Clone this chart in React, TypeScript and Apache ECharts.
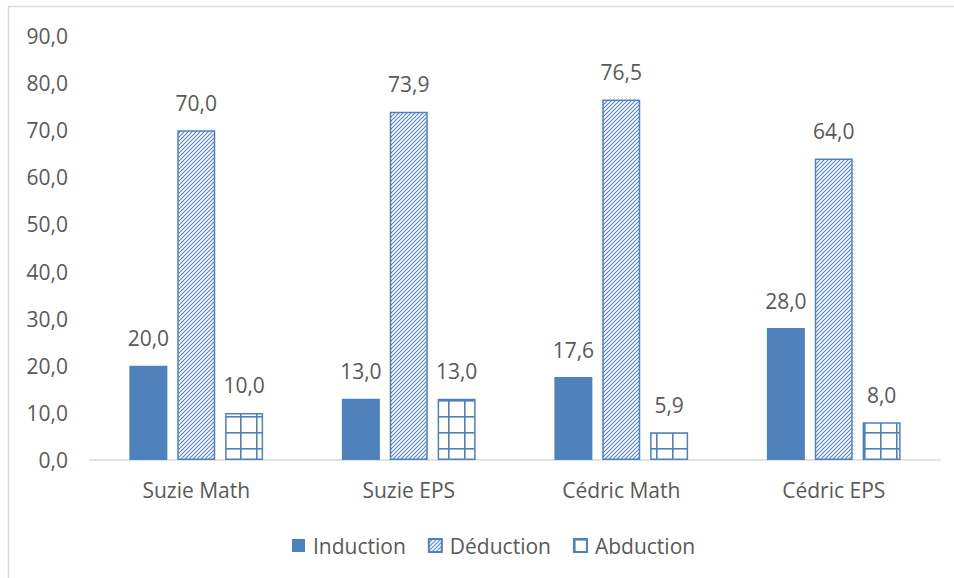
import React, { useEffect, useRef } from "react";
import * as echarts from "echarts";

const categories = ["Suzie Math", "Suzie EPS", "Cédric Math", "Cédric EPS"];
const induction = [20.0, 13.0, 17.6, 28.0];
const deduction = [70.0, 73.9, 76.5, 64.0];
const abduction = [10.0, 13.0, 5.9, 8.0];
const seriesNames = ["Induction", "Déduction", "Abduction"];

const BLUE = "#4F81BD";
const TEXT = "#595959";
const FONT = "'Open Sans', sans-serif";
const FS = 21;

function hatchPattern() {
  const s = 8;
  const c = document.createElement("canvas");
  c.width = s;
  c.height = s;
  const ctx = c.getContext("2d")!;
  ctx.fillStyle = "#ffffff";
  ctx.fillRect(0, 0, s, s);
  ctx.strokeStyle = BLUE;
  ctx.lineWidth = 1.1;
  for (let k = -2; k <= 2; k++) {
    const o = k * 4;
    ctx.beginPath();
    ctx.moveTo(o - 1, s + 1);
    ctx.lineTo(o + s + 1, -1);
    ctx.stroke();
  }
  return { image: c.toDataURL(), repeat: "repeat", imageWidth: s, imageHeight: s };
}

function gridPattern() {
  const s = 16;
  const c = document.createElement("canvas");
  c.width = s;
  c.height = s;
  const ctx = c.getContext("2d")!;
  ctx.fillStyle = "#ffffff";
  ctx.fillRect(0, 0, s, s);
  ctx.fillStyle = BLUE;
  ctx.fillRect(0, 0, s, 1.6);
  ctx.fillRect(0, 0, 1.6, s);
  return { image: c.toDataURL(), repeat: "repeat", imageWidth: s, imageHeight: s };
}

const fmt = (v: number) => v.toFixed(1).replace(".", ",");

export default function App() {
  const ref = useRef<HTMLDivElement>(null);
  useEffect(() => {
    if (!ref.current) return;
    const chart = echarts.init(ref.current, null, { renderer: "svg" });
    const label = {
      show: true,
      position: "top",
      distance: 17,
      color: TEXT,
      fontSize: FS,
      fontFamily: FONT,
      formatter: (p: any) => fmt(p.value),
    };
    chart.setOption({
      animation: false,
      backgroundColor: "#ffffff",
      graphic: [
        {
          type: "rect",
          shape: { x: 8.5, y: 6.5, width: 1000, height: 700 },
          style: { fill: "none", stroke: "#d9d9d9", lineWidth: 1.5 },
          silent: true,
        },
      ],
      grid: { left: 90, right: 14, top: 36, bottom: 118, containLabel: false },
      legend: {
        data: seriesNames,
        icon: "rect",
        left: 287,
        top: 530,
        itemWidth: 13,
        itemHeight: 13,
        itemGap: 22,
        textStyle: { color: TEXT, fontSize: FS, fontFamily: FONT, padding: [0, 0, 0, 3] },
      },
      xAxis: {
        type: "category",
        data: categories,
        axisLine: { lineStyle: { color: "#d9d9d9", width: 1.5 } },
        axisTick: { show: false },
        axisLabel: { color: TEXT, fontSize: FS, fontFamily: FONT, margin: 19 },
      },
      yAxis: {
        type: "value",
        min: 0,
        max: 90,
        interval: 10,
        axisLine: { show: false },
        axisTick: { show: false },
        splitLine: { show: false },
        axisLabel: { color: TEXT, fontSize: FS, fontFamily: FONT, margin: 22, formatter: fmt },
      },
      series: [
        {
          name: seriesNames[0],
          type: "bar",
          data: induction,
          barWidth: 38,
          barGap: "26%",
          itemStyle: { color: BLUE },
          label,
        },
        {
          name: seriesNames[1],
          type: "bar",
          data: deduction,
          barWidth: 38,
          barGap: "26%",
          itemStyle: { color: hatchPattern(), borderColor: BLUE, borderWidth: 1.5 },
          label,
        },
        {
          name: seriesNames[2],
          type: "bar",
          data: abduction,
          barWidth: 38,
          barGap: "26%",
          itemStyle: { color: gridPattern(), borderColor: BLUE, borderWidth: 1.5 },
          label,
        },
      ],
    });
    return () => chart.dispose();
  }, []);
  return (
    <div
      ref={ref}
      style={{ position: "absolute", left: 0, top: 0, width: 954, height: 578 }}
    />
  );
}
